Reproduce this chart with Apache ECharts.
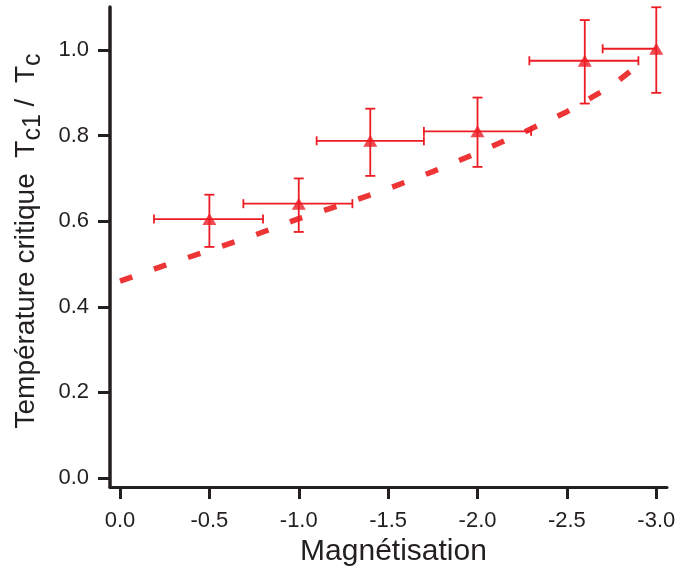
<!DOCTYPE html>
<html>
<head>
<meta charset="utf-8">
<script src="https://cdn.jsdelivr.net/npm/echarts@6/dist/echarts.min.js"></script>
<style>
html,body{margin:0;padding:0;background:#fff;}
#chart{width:675px;height:572px;}
</style>
</head>
<body>
<div id="chart"></div>
<script>
// ---- data ----
const xTicks = [0, -0.5, -1.0, -1.5, -2.0, -2.5, -3.0];
const yTicks = [0, 0.2, 0.4, 0.6, 0.8, 1.0];

const magX      = [-0.5, -1.0, -1.4, -2.0, -2.6, -3.0];
const tcRatio   = [0.605, 0.641, 0.788, 0.81, 0.975, 1.003];
const xBarNear  = [-0.19, -0.69, -1.10, -1.70, -2.29, -2.70];
const xBarFar   = [-0.80, -1.30, -1.70, -2.30, -2.90, -3.00];
const yBarLow   = [0.54, 0.575, 0.706, 0.727, 0.875, 0.90];
const yBarHigh  = [0.662, 0.70, 0.863, 0.889, 1.07, 1.10];

const fitX = [0, -0.25, -0.5, -0.75, -1.0, -1.25, -1.5, -1.75, -2.0, -2.25, -2.5, -2.75, -2.9];
const fitY = [0.46, 0.497, 0.532, 0.567, 0.606, 0.64, 0.676, 0.716, 0.76, 0.806, 0.856, 0.916, 0.965];

const FONT = "'Liberation Sans', Arial, Helvetica, sans-serif";
const AXIS = '#231f20';
const RED = '#ed1c24';
const RED_FIT = '#ee3536';

const chart = echarts.init(document.getElementById('chart'), null, {renderer: 'canvas'});

const pts = magX.map((x, i) => [x, tcRatio[i]]);
const errData = magX.map((x, i) => [x, tcRatio[i], xBarNear[i], xBarFar[i], yBarLow[i], yBarHigh[i]]);
const fitData = fitX.map((x, i) => [x, fitY[i]]);

function renderErr(params, api) {
  const x = api.value(0), y = api.value(1);
  const xn = api.value(2), xf = api.value(3), yl = api.value(4), yh = api.value(5);
  const c = api.coord([x, y]);
  const pn = api.coord([xn, y]);
  const pf = api.coord([xf, y]);
  const pl = api.coord([x, yl]);
  const ph = api.coord([x, yh]);
  const st = {stroke: RED, lineWidth: 1.8};
  const capH = 4.5, capV = 5;
  const ch = [
    {type: 'line', shape: {x1: pn[0], y1: c[1], x2: pf[0], y2: c[1]}, style: st},
    {type: 'line', shape: {x1: c[0], y1: pl[1], x2: c[0], y2: ph[1]}, style: st},
    {type: 'line', shape: {x1: pn[0], y1: c[1] - capH, x2: pn[0], y2: c[1] + capH}, style: st},
    {type: 'line', shape: {x1: c[0] - capV, y1: pl[1], x2: c[0] + capV, y2: pl[1]}, style: st},
    {type: 'line', shape: {x1: c[0] - capV, y1: ph[1], x2: c[0] + capV, y2: ph[1]}, style: st}
  ];
  if (Math.abs(xf - x) > 1e-9) {
    ch.push({type: 'line', shape: {x1: pf[0], y1: c[1] - capH, x2: pf[0], y2: c[1] + capH}, style: st});
  }
  return {type: 'group', children: ch};
}

const option = {
  backgroundColor: '#ffffff',
  animation: false,
  grid: {left: 110, right: 8, top: 7, bottom: 85, containLabel: false, outerBoundsMode: 'none'},
  xAxis: {
    type: 'value',
    inverse: true,
    min: -3.06,
    max: 0.056,
    splitLine: {show: false},
    axisLine: {show: true, onZero: false, lineStyle: {color: AXIS, width: 3}},
    axisTick: {show: true, length: 12, customValues: xTicks, lineStyle: {color: AXIS, width: 3}},
    axisLabel: {customValues: xTicks, formatter: v => Number(v).toFixed(1), fontSize: 22, color: AXIS, fontFamily: FONT, margin: 23},
    name: 'Magnétisation',
    nameLocation: 'middle',
    nameGap: 50,
    nameTextStyle: {fontSize: 30, color: AXIS, fontFamily: FONT, padding: [0, 0, 0, 10]}
  },
  yAxis: {
    type: 'value',
    min: -0.021,
    max: 1.1006,
    splitLine: {show: false},
    axisLine: {show: true, onZero: false, lineStyle: {color: AXIS, width: 3.5}},
    axisTick: {show: true, length: 12, customValues: yTicks, lineStyle: {color: AXIS, width: 3}},
    axisLabel: {customValues: yTicks, formatter: v => Number(v).toFixed(1), fontSize: 22, color: AXIS, fontFamily: FONT, margin: 21}
  },
  graphic: [{
    type: 'text',
    x: 26,
    y: 241,
    rotation: Math.PI / 2,
    style: {
      text: '{a|Température critique  T}{s|c1}{a| /  T}{s|c}',
      textAlign: 'center',
      textVerticalAlign: 'middle',
      fill: AXIS,
      rich: {
        a: {fontSize: 28, fontFamily: FONT, fill: AXIS, lineHeight: 40, verticalAlign: 'middle'},
        s: {fontSize: 25, fontFamily: FONT, fill: AXIS, lineHeight: 24, verticalAlign: 'bottom'}
      }
    }
  }],
  series: [
    {
      type: 'line',
      data: fitData,
      showSymbol: false,
      silent: true,
      z: 2,
      lineStyle: {color: RED_FIT, width: 5.5, type: [13, 23], cap: 'butt'}
    },
    {
      type: 'custom',
      data: errData,
      renderItem: renderErr,
      encode: {x: [0, 2, 3], y: [1, 4, 5]},
      silent: true,
      z: 3
    },
    {
      type: 'scatter',
      data: pts,
      symbol: 'triangle',
      symbolSize: [14, 12],
      itemStyle: {color: RED},
      z: 4
    }
  ]
};
chart.setOption(option);
</script>
</body>
</html>
